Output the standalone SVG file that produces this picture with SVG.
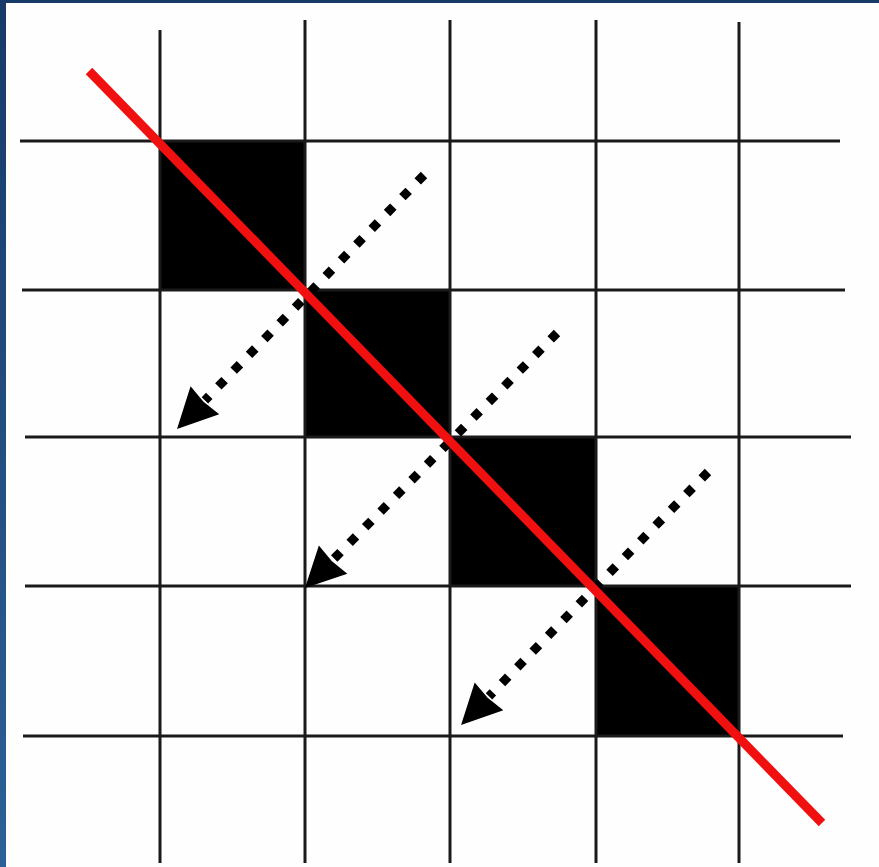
<svg xmlns="http://www.w3.org/2000/svg" width="879" height="867" viewBox="0 0 879 867">
<defs>
<linearGradient id="frame" x1="0" y1="0" x2="0" y2="1">
<stop offset="0" stop-color="#183a68"/>
<stop offset="1" stop-color="#2c6197"/>
</linearGradient>
<marker id="head" viewBox="-2 -23 46 46" refX="0" refY="0" markerWidth="46" markerHeight="46" markerUnits="userSpaceOnUse" orient="auto">
<path d="M40,0 L0,-20 L2,0 L0,20 Z" fill="#000"/>
</marker>
<style>
.grid{stroke:#1a1a1a;stroke-width:3;fill:none}
.cell{fill:#000}
.dots{stroke:#000;stroke-width:9;stroke-dasharray:9 13;fill:none;marker-end:url(#head)}
.diag{stroke:#f01010;stroke-width:9;stroke-linecap:butt}
</style>
</defs>
<rect x="0" y="0" width="879" height="867" fill="url(#frame)"/>
<rect x="6" y="3" width="873" height="864" fill="#fefefe"/>
<g id="cells">
<rect class="cell" x="160" y="141" width="145" height="149"/>
<rect class="cell" x="305" y="290" width="145" height="147"/>
<rect class="cell" x="450" y="437" width="146" height="149"/>
<rect class="cell" x="596" y="586" width="143" height="150"/>
</g>
<g id="grid">
<line class="grid" x1="160" y1="30" x2="160" y2="863"/>
<line class="grid" x1="305" y1="20" x2="305" y2="863"/>
<line class="grid" x1="450" y1="20" x2="450" y2="863"/>
<line class="grid" x1="596" y1="20" x2="596" y2="863"/>
<line class="grid" x1="739" y1="22" x2="739" y2="863"/>
<line class="grid" x1="20" y1="141" x2="840" y2="141"/>
<line class="grid" x1="22" y1="290" x2="845" y2="290"/>
<line class="grid" x1="25" y1="437" x2="851" y2="437"/>
<line class="grid" x1="25" y1="586" x2="851" y2="586"/>
<line class="grid" x1="23" y1="736" x2="843" y2="736"/>
</g>
<g id="connectors">
<line class="dots" x1="424" y1="175" x2="204.9" y2="400.3"/>
<line class="dots" x1="557" y1="333" x2="333.1" y2="559.6"/>
<line class="dots" x1="708" y1="472" x2="489" y2="696.4"/>
<line class="diag" x1="89" y1="71" x2="822" y2="823"/>
</g>
</svg>
